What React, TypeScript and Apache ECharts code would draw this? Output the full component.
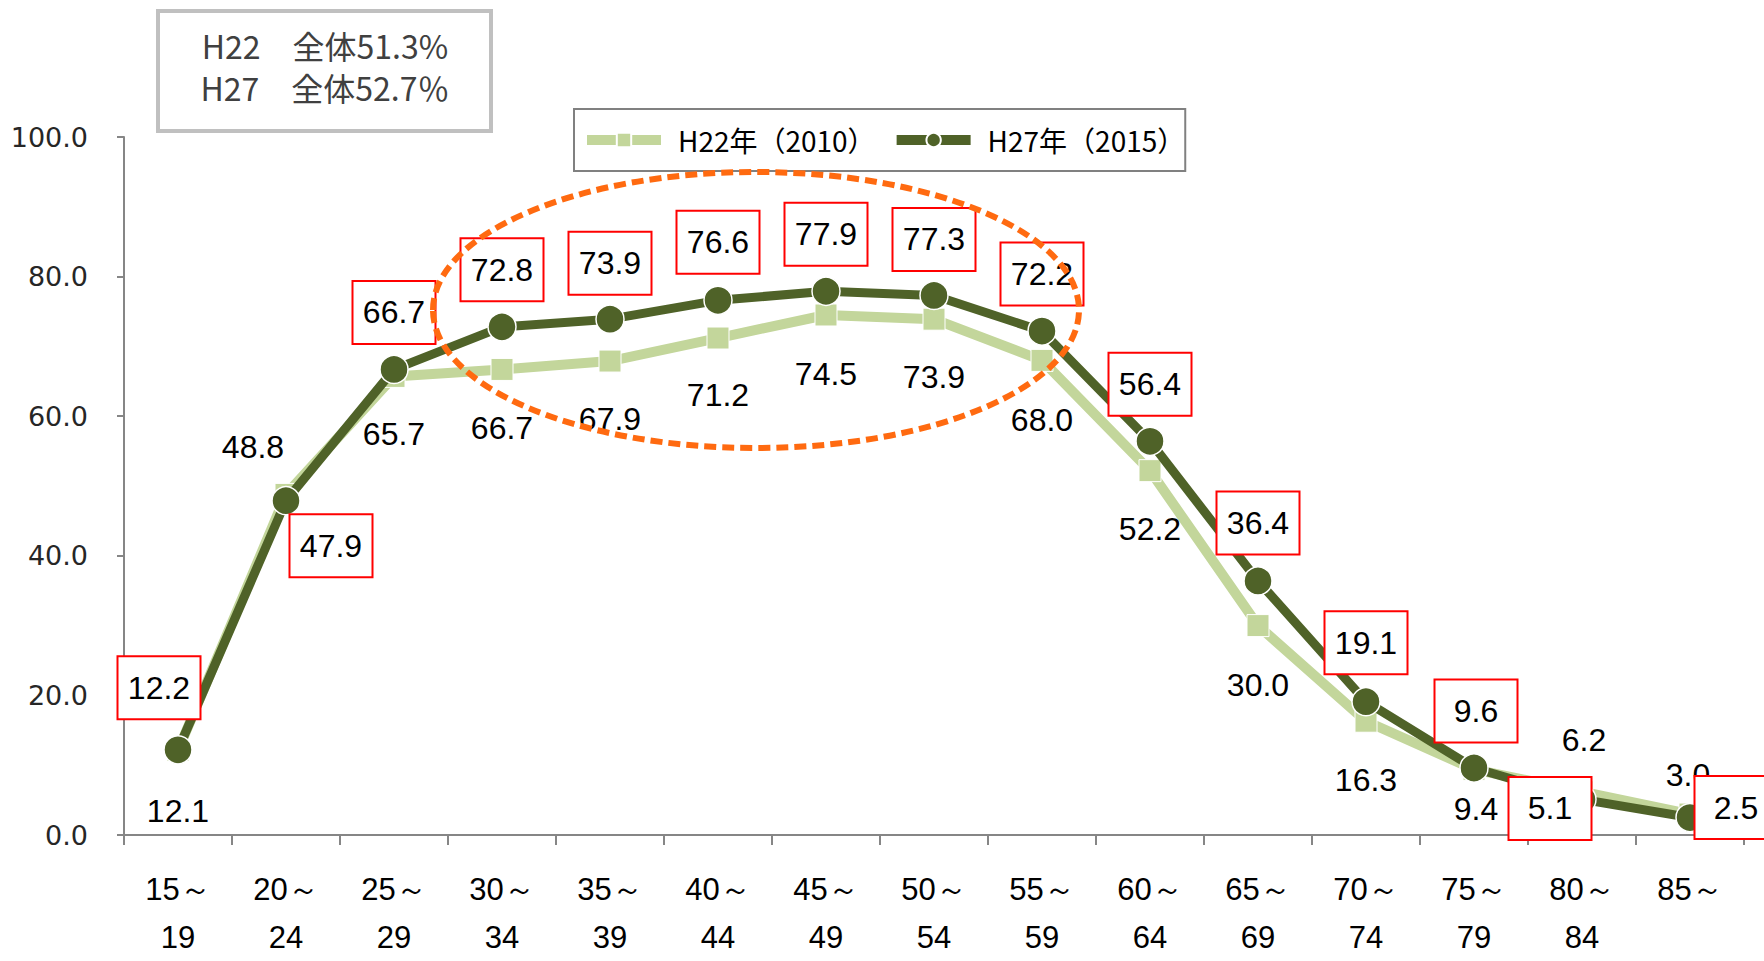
import React, { useEffect, useRef } from "react";
import * as echarts from "echarts";

const categories = [
  "15～\n19", "20～\n24", "25～\n29", "30～\n34", "35～\n39", "40～\n44", "45～\n49",
  "50～\n54", "55～\n59", "60～\n64", "65～\n69", "70～\n74", "75～\n79", "80～\n84", "85～",
];
const h22Name = "H22年（2010）";
const h27Name = "H27年（2015）";
const h22Values = [12.1, 48.8, 65.7, 66.7, 67.9, 71.2, 74.5, 73.9, 68.0, 52.2, 30.0, 16.3, 9.4, 6.2, 3.0];
const h27Values = [12.2, 47.9, 66.7, 72.8, 73.9, 76.6, 77.9, 77.3, 72.2, 56.4, 36.4, 19.1, 9.6, 5.1, 2.5];
const yTicks = { min: 0, max: 100, interval: 20 };
const summaryLines = ["H22　全体51.3%", "H27　全体52.7％"];

// label offsets (styling, kept apart from data)
const h22LabelOffsets: number[][] = [
  [0, 60], [-33, -47], [0, 58], [0, 59], [0, 58], [0, 57], [0, 59], [0, 58],
  [0, 60], [0, 58], [0, 59], [0, 59], [2, 40], [2, -52], [-2, -39],
];
const h27LabelOffsets: number[][] = [
  [-19, -62], [45, 45], [0, -57], [0, -57], [0, -56], [0, -58], [0, -57], [0, -56],
  [0, -57], [0, -57], [0, -58], [0, -59], [2, -57], [-32, 9], [46, -10],
];

const NARROW = "'Liberation Sans Narrow', 'Liberation Sans', Arial, sans-serif";
const CJK = "'Noto Sans CJK JP', 'Noto Sans', sans-serif";

export default function App() {
  const ref = useRef<HTMLDivElement>(null);
  useEffect(() => {
    document.body.style.margin = "0";
    if (!ref.current) return;
    const chart = echarts.init(ref.current, null, { renderer: "svg" });
    const option: any = {
      animation: false,
      backgroundColor: "#ffffff",
      grid: { left: 124, right: 20, top: 137, bottom: 117, containLabel: false },
      legend: {
        left: 574,
        top: 109,
        orient: "horizontal",
        data: [h22Name, h27Name],
        itemWidth: 74,
        itemHeight: 18,
        itemGap: 16,
        padding: [13, 0, 13, 8],
        borderColor: "#808080",
        borderWidth: 2,
        backgroundColor: "#ffffff",
        lineStyle: { width: 10 },
        textStyle: { fontSize: 28, fontFamily: CJK, color: "#000", padding: [0, 0, 0, 12], lineHeight: 36 },
      },
      xAxis: {
        type: "category",
        data: categories,
        boundaryGap: true,
        axisLine: { show: true, lineStyle: { color: "#868686", width: 2 } },
        axisTick: { show: true, length: 10, interval: 0, lineStyle: { color: "#868686", width: 2 } },
        axisLabel: { interval: 0, fontSize: 31, lineHeight: 48, margin: 30, fontFamily: NARROW, color: "#000" },
        splitLine: { show: false },
      },
      yAxis: {
        type: "value",
        min: yTicks.min,
        max: yTicks.max,
        interval: yTicks.interval,
        axisLine: { show: true, lineStyle: { color: "#868686", width: 2 } },
        axisTick: { show: true, length: 7, lineStyle: { color: "#868686", width: 2 } },
        axisLabel: {
          fontSize: 27,
          fontFamily: "'DejaVu Sans', Verdana, sans-serif",
          color: "#262626",
          margin: 36,
          formatter: (v: number) => v.toFixed(1),
        },
        splitLine: { show: false },
      },
      series: [
        {
          name: h22Name,
          type: "line",
          z: 2,
          data: h22Values.map((v, i) => ({ value: v, label: { offset: h22LabelOffsets[i] } })),
          symbol: "rect",
          symbolSize: 22,
          color: "#c3d69b",
          lineStyle: { color: "#c3d69b", width: 10 },
          itemStyle: { color: "#c3d69b", borderColor: "#ffffff", borderWidth: 1 },
          label: {
            show: true,
            position: "inside",
            fontSize: 32,
            fontFamily: NARROW,
            color: "#000",
            formatter: (p: any) => Number(p.value).toFixed(1),
          },
        },
        {
          name: h27Name,
          type: "line",
          z: 3,
          data: h27Values.map((v, i) => ({ value: v, label: { offset: h27LabelOffsets[i] } })),
          symbol: "circle",
          symbolSize: 28,
          color: "#4f6228",
          lineStyle: { color: "#4f6228", width: 9 },
          itemStyle: { color: "#4f6228", borderColor: "#ffffff", borderWidth: 1.5 },
          label: {
            show: true,
            position: "inside",
            fontSize: 32,
            fontFamily: NARROW,
            color: "#000",
            backgroundColor: "#ffffff",
            borderColor: "#ff0000",
            borderWidth: 2,
            width: 57,
            height: 41,
            lineHeight: 41,
            align: "center",
            verticalAlign: "middle",
            padding: [10, 12, 10, 12],
            formatter: (p: any) => Number(p.value).toFixed(1),
          },
        },
      ],
      graphic: [
        {
          type: "ellipse",
          z: 100,
          silent: true,
          shape: { cx: 756, cy: 310, rx: 323, ry: 138 },
          style: { fill: "none", stroke: "#ff6a10", lineWidth: 6, lineDash: [12, 6] },
        },
        {
          type: "group",
          z: 100,
          children: [
            {
              type: "rect",
              shape: { x: 158, y: 11, width: 333, height: 120 },
              style: { fill: "#ffffff", stroke: "#c0c0c0", lineWidth: 4 },
            },
            {
              type: "text",
              x: 325,
              y: 45,
              style: {
                text: summaryLines[0],
                fontSize: 32,
                fontFamily: CJK,
                fill: "#404040",
                align: "center",
                verticalAlign: "middle",
              },
            },
            {
              type: "text",
              x: 325,
              y: 87,
              style: {
                text: summaryLines[1],
                fontSize: 32,
                fontFamily: CJK,
                fill: "#404040",
                align: "center",
                verticalAlign: "middle",
              },
            },
          ],
        },
      ],
    };
    chart.setOption(option);
    return () => chart.dispose();
  }, []);
  return <div ref={ref} style={{ width: 1764, height: 961 }} />;
}
